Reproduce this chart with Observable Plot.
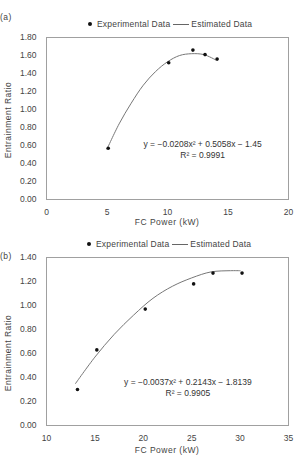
<!DOCTYPE html>
<html><head><meta charset="utf-8">
<script src="https://cdn.jsdelivr.net/npm/d3@7"></script>
<script src="https://cdn.jsdelivr.net/npm/@observablehq/plot@0.6"></script>
<style>
body{margin:0;background:#fff;}
#wrap{position:relative;width:296px;height:457px;font-family:"Liberation Sans",Arial,sans-serif;color:#444;overflow:hidden;}
#wrap svg{position:absolute;left:0;}
.t{position:absolute;font-size:8.5px;letter-spacing:0.5px;white-space:nowrap;color:#444;}
.rot{transform:translate(-50%,-50%) rotate(-90deg);}
.c{transform:translate(-50%,-50%);}
.lg{position:absolute;display:flex;align-items:center;font-size:8.5px;letter-spacing:0.2px;color:#444;white-space:nowrap;}
.dot{width:4px;height:4px;border-radius:50%;background:#111;margin-right:5px;}
.ln{width:16px;height:1px;background:#666;margin:0 2px 0 3px;}
</style></head>
<body><div id="wrap"></div>
<script>
// Panel (a)
const aExpX = [5.1, 10.1, 12.1, 13.1, 14.1];
const aExpY = [0.57, 1.52, 1.66, 1.61, 1.56];
const aEstX = [5, 6, 7, 8, 9, 10, 11, 12, 13, 14];
const aEstY = [0.56, 0.84, 1.07, 1.27, 1.42, 1.53, 1.60, 1.62, 1.61, 1.55];
const aEq = "y = \u22120.0208x\u00b2 + 0.5058x \u2212 1.45";
const aR2 = "R\u00b2 = 0.9991";
// Panel (b)
const bExpX = [13.2, 15.2, 20.2, 25.2, 27.2, 30.2];
const bExpY = [0.30, 0.63, 0.97, 1.18, 1.27, 1.27];
const bEstX = [13, 15, 17, 19, 21, 23, 25, 27, 29, 30];
const bEstY = [0.35, 0.57, 0.76, 0.92, 1.06, 1.16, 1.23, 1.28, 1.29, 1.29];
const bEq = "y = \u22120.0037x\u00b2 + 0.2143x \u2212 1.8139";
const bR2 = "R\u00b2 = 0.9905";

const wrap = document.getElementById("wrap");
const font = "Liberation Sans, Arial, sans-serif";

function panel(o){
  const exp = o.ex.map((x,i)=>({x, y:o.ey[i]}));
  const est = o.cx.map((x,i)=>({x, y:o.cy[i]}));
  const p = Plot.plot({
    width:296, height:o.h,
    marginLeft:46, marginRight:8, marginTop:o.mt, marginBottom:o.mb,
    style:{fontFamily:font, fontSize:"8.5px", color:"#444", background:"transparent"},
    x:{domain:o.xd, ticks:o.xt},
    y:{domain:o.yd, ticks:o.yt},
    marks:[
      Plot.frame({stroke:"#a0a0a0"}),
      Plot.axisX({ticks:o.xt, tickSize:0, tickPadding:9, label:null, style:{letterSpacing:"1px"}}),
      Plot.axisY({ticks:o.yt, tickSize:0, tickPadding:10, tickFormat:d3.format(".2f"), label:null, style:{letterSpacing:"1px"}}),
      Plot.line(est, {x:"x", y:"y", stroke:"#777", strokeWidth:1, curve:"catmull-rom"}),
      Plot.dot(exp, {x:"x", y:"y", r:1.8, fill:"#111"}),
      Plot.text([o.eq], {x:o.ax, y:o.ay1, text:d=>d, fill:"#333", style:{letterSpacing:"0.3px"}}),
      Plot.text([o.r2], {x:o.ax, y:o.ay2, text:d=>d, fill:"#333", style:{letterSpacing:"0.3px"}})
    ]
  });
  p.style.top = o.top + "px";
  wrap.appendChild(p);
}

panel({ex:aExpX, ey:aExpY, cx:aEstX, cy:aEstY, eq:aEq, r2:aR2,
  h:230, mt:37, mb:31, top:0, xd:[0,20], xt:d3.range(0,21,5), yd:[0,1.8], yt:d3.range(0,1.81,0.2),
  ax:12.9, ay1:0.615, ay2:0.49});
panel({ex:bExpX, ey:bExpY, cx:bEstX, cy:bEstY, eq:bEq, r2:bR2,
  h:229, mt:29, mb:32, top:228, xd:[10,35], xt:d3.range(10,36,5), yd:[0,1.4], yt:d3.range(0,1.41,0.2),
  ax:24.6, ay1:0.36, ay2:0.27});

function txt(s, x, y, cls){
  const d = document.createElement("div");
  d.className = "t " + cls; d.textContent = s;
  d.style.left = x + "px"; d.style.top = y + "px";
  wrap.appendChild(d);
}
function legend(x, y){
  const d = document.createElement("div");
  d.className = "lg"; d.style.left = x + "px"; d.style.top = y + "px";
  d.innerHTML = '<span class="dot"></span><span>Experimental Data</span><span class="ln"></span><span>Estimated Data</span>';
  wrap.appendChild(d);
}
txt("(a)", 0, 12, "");
legend(88, 19);
txt("Entrainment Ratio", 8, 120, "rot");
txt("FC Power (kW)", 167, 222, "c");
txt("(b)", 0, 251, "");
legend(87, 239);
txt("Entrainment Ratio", 8, 353, "rot");
txt("FC Power (kW)", 167, 450, "c");
</script></body></html>
